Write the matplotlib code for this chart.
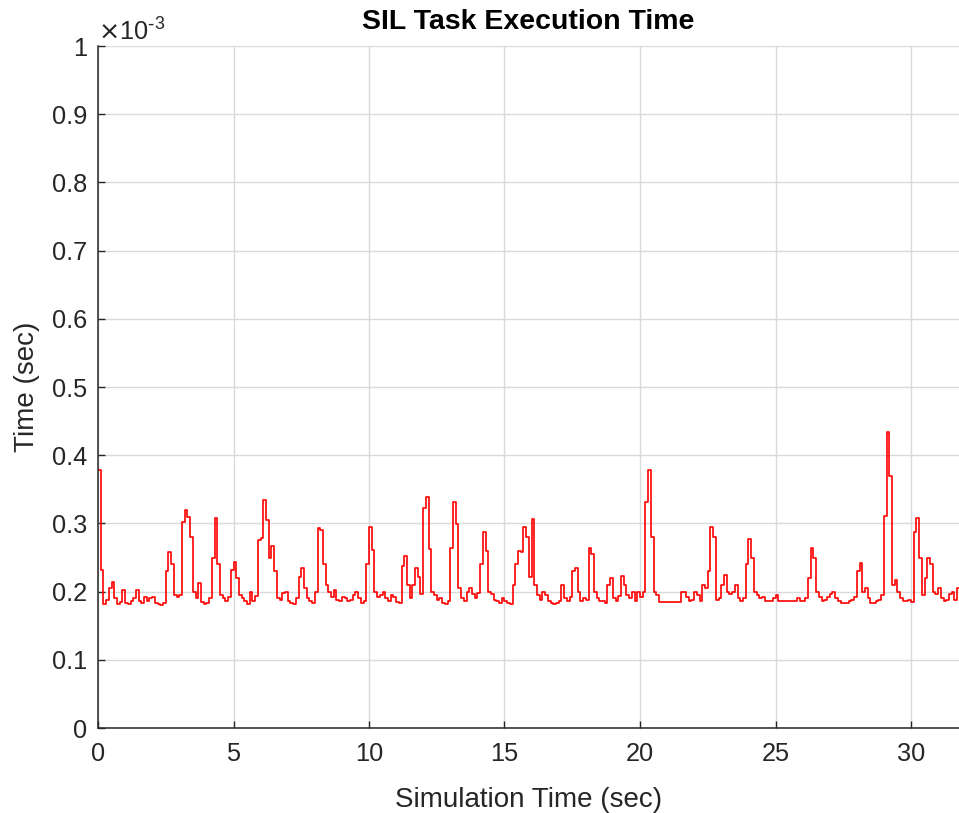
import numpy as np
import matplotlib
matplotlib.use("Agg")
import matplotlib.pyplot as plt
from matplotlib.ticker import FuncFormatter

# task execution time, microseconds, sampled every 0.1 s (one row per second)
exec_us = [
    378, 232, 182, 188, 205, 214, 190, 182, 185, 202,
    184, 182, 186, 190, 202, 186, 183, 192, 186, 190,
    192, 183, 182, 181, 184, 230, 258, 240, 195, 192,
    195, 302, 320, 310, 280, 200, 190, 212, 185, 182,
    184, 190, 250, 308, 240, 195, 190, 186, 192, 232,
    244, 220, 195, 190, 186, 182, 200, 186, 194, 276,
    278, 334, 305, 250, 267, 230, 190, 188, 198, 200,
    186, 184, 182, 190, 222, 235, 205, 190, 186, 184,
    200, 293, 290, 240, 210, 200, 192, 202, 188, 186,
    192, 190, 186, 188, 195, 200, 190, 184, 186, 240,
    295, 261, 200, 192, 195, 200, 190, 186, 195, 192,
    185, 184, 238, 252, 210, 190, 210, 235, 222, 196,
    322, 338, 262, 200, 195, 188, 190, 184, 182, 186,
    264, 332, 299, 205, 190, 186, 200, 205, 196, 190,
    198, 240, 288, 260, 200, 196, 188, 186, 184, 190,
    186, 184, 182, 210, 240, 260, 258, 295, 280, 222,
    306, 210, 195, 188, 200, 195, 186, 184, 182, 184,
    186, 210, 190, 186, 192, 230, 235, 200, 186, 190,
    188, 264, 255, 200, 190, 186, 186, 184, 210, 220,
    190, 186, 194, 223, 210, 195, 190, 200, 186, 200,
    192, 200, 332, 378, 280, 200, 195, 185, 185, 185,
    185, 185, 185, 185, 185, 200, 200, 192, 186, 188,
    200, 195, 186, 210, 205, 230, 294, 280, 188, 190,
    210, 225, 200, 196, 200, 210, 190, 186, 190, 240,
    277, 250, 200, 195, 190, 192, 186, 186, 186, 190,
    195, 186, 186, 186, 186, 186, 186, 186, 190, 186,
    186, 190, 220, 264, 250, 200, 192, 186, 188, 192,
    196, 200, 190, 186, 184, 184, 184, 186, 188, 192,
    230, 242, 200, 205, 190, 184, 184, 186, 188, 195,
    311, 434, 370, 210, 217, 200, 190, 186, 186, 188,
    185, 288, 308, 250, 195, 220, 250, 240, 200, 196,
    205, 190, 186, 188, 196, 200, 188, 205, 200,
]
sample_dt = 0.1
x_ticks = [0, 5, 10, 15, 20, 25, 30]
y_ticks = [0, 0.1, 0.2, 0.3, 0.4, 0.5, 0.6, 0.7, 0.8, 0.9, 1]

sim_t = np.arange(len(exec_us)) * sample_dt
exec_ms = np.array(exec_us) / 1000.0   # shown in units of 1e-3 s

plt.rcParams['font.family'] = ['Liberation Sans', 'DejaVu Sans']
dark = '#262626'

fig = plt.figure(figsize=(9.59, 8.13), dpi=100)
ax = fig.add_axes([98/959, 85/813, 1 - 98/959, (728 - 46)/813])

ax.plot(sim_t, exec_ms, color='red', lw=1.2, drawstyle='steps-post')

ax.set_xlim(0, (959 - 98) / 27.1)
ax.set_ylim(0, 1)
ax.set_xticks(x_ticks)
ax.set_yticks(y_ticks)
ax.yaxis.set_major_formatter(FuncFormatter(lambda v, p: '%g' % round(v, 3)))

ax.grid(True, color='#dadada', lw=1.0)
ax.set_axisbelow(True)
for s in ['top', 'right']:
    ax.spines[s].set_visible(False)
for s in ['left', 'bottom']:
    ax.spines[s].set_color(dark)
    ax.spines[s].set_linewidth(1.1)

ax.tick_params(direction='in', length=5, width=1.0, colors=dark,
               labelsize=18.3)
ax.tick_params(axis='x', pad=10)
ax.tick_params(axis='y', pad=8)

ax.set_title('SIL Task Execution Time', fontsize=20.5, fontweight='bold',
             color='black', pad=12)
ax.set_xlabel('Simulation Time (sec)', fontsize=20, color=dark, labelpad=15)
ax.set_ylabel('Time (sec)', fontsize=20, color=dark, labelpad=8)

ax.text(0.0, 1.0, r'$\times\mathregular{10^{\text{-}3}}$', transform=ax.transAxes,
        fontsize=18.3, color=dark, ha='left', va='bottom')

fig.savefig('out.png', dpi=100)
